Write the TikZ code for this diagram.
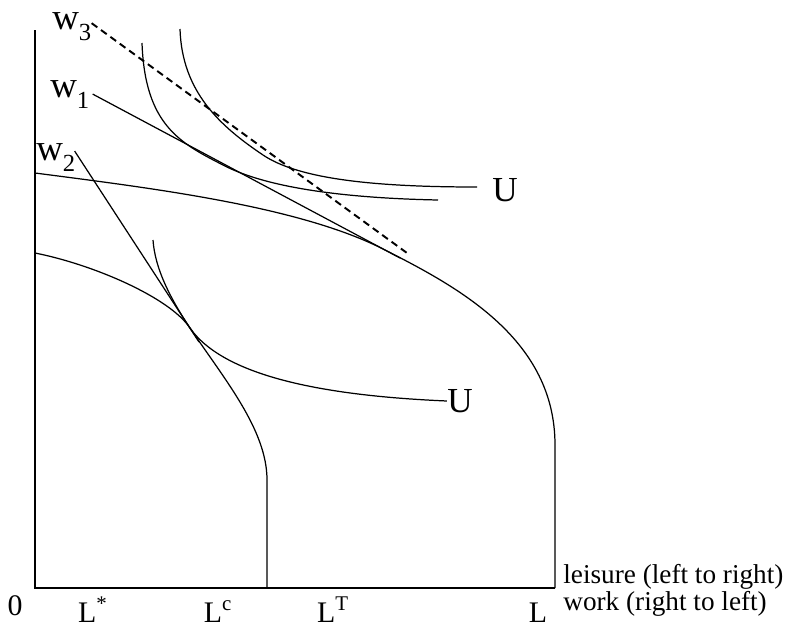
\documentclass[tikz,border=0pt]{standalone}
\usepackage{fontspec}
\setmainfont{Liberation Serif}
\usetikzlibrary{positioning,calc}
\tikzset{
	curve/.style={line width=0.7pt},% frontiers and indifference curves
	wageline/.style={line width=0.7pt},
	wagedash/.style={line width=1.1pt, dash pattern=on 4pt off 2.6pt},
	lab/.style={inner sep=0pt, anchor=base, font=\fontsize{17}{17}\selectfont},
	note/.style={inner sep=0pt, anchor=west, align=left, font=\fontsize{15.5}{13.6}\selectfont},
	ulab/.style={inner sep=0pt, font=\fontsize{20}{20}\selectfont}
}
\newcommand{\wlab}[1]{{\fontsize{21}{21}\selectfont w\raisebox{-0.3em}{\fontsize{14}{14}\selectfont #1}}}

\begin{document}
\begin{tikzpicture}[x=0.02cm, y=-0.02cm]
	\useasboundingbox (0,0) rectangle (791,636);
	% axes
	\coordinate (top) at (35,30);
	\coordinate (O) at (35,588);
	\coordinate (Lend) at (555,588);
	\coordinate (Lc) at (267,588);
	\draw[curve] (top) -- (O) -- (Lend);
	% tangency points
	\coordinate (T1) at (385,250);
	\coordinate (T2) at (190,328);
	\coordinate (Ta) at (223,165);
	\coordinate (Tb) at (263,155);
	% outer and inner frontier
	\draw[curve] (35,173) .. controls (150,188) and (300,206) .. (T1)
		.. controls (460,288) and (555,340) .. (555,445) -- (Lend);
	\draw[curve] (35,253) .. controls (95,265) and (170,298) .. (T2)
		.. controls (225,380) and (267,430) .. (267,480) -- (Lc);
	% labels
	\node[inner sep=0pt, anchor=base west] (w3) at (52,29) {\wlab{3}};
	\node[inner sep=0pt, anchor=base west] (w1) at (50,97) {\wlab{1}};
	\node[inner sep=0pt, anchor=base west] (w2) at (36,160) {\wlab{2}};
	\node[ulab] (Uhi) at (505,190) {U};
	\node[ulab] (Ulo) at (460,401) {U};
	% wage lines
	\coordinate (w3end) at (407,253);
	\coordinate (w1end) at (400,258);
	\coordinate (w2end) at (199,342);
	\draw[wagedash] (w3.east) ++(0,-3) -- (w3end);
	\draw[wageline] (w1.east) ++(3,0) -- (w1end);
	\draw[wageline] (w2.east) ++(-1,-6) -- (w2end);
	% indifference curves
	\draw[curve] (142,43) .. controls (145,125) and (180,143) .. (Ta)
		.. controls (265,187) and (340,198) .. (438,200);
	\draw[curve] (180,29) .. controls (182,92) and (220,126) .. (Tb)
		.. controls (300,180) and (380,187) .. (477,187);
	\draw[curve] (153,240) .. controls (155,270) and (172,301) .. (T2)
		.. controls (225,378) and (330,396) .. (Ulo.west);
	% axis labels
	\node[lab] (zero) at (15,615) {0};
	\node[lab] (Lstar) at (93,622) {L\textsuperscript{*}};
	\node[lab] (Lcare) at (218,622) {L\textsuperscript{c}};
	\node[lab] (LT) at (333,622) {L\textsuperscript{T}};
	\node[lab] (Ltot) at (538,622) {L};
	\node[note] (axisnote) at (563,590) {leisure (left to right)\\work (right to left)};
\end{tikzpicture}
\end{document}
